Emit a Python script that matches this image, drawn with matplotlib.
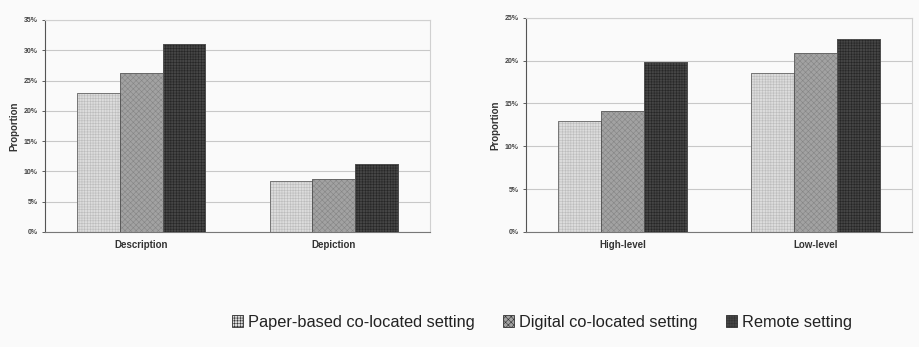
"""Proportion of description/depiction and high/low-level statements by setting."""
import matplotlib
matplotlib.use("Agg")
import matplotlib.pyplot as plt
from matplotlib.patches import Patch
from matplotlib.ticker import PercentFormatter
import numpy as np

plt.rcParams["font.family"] = ["Liberation Sans", "DejaVu Sans"]
plt.rcParams["hatch.linewidth"] = 0.4

settings = ["Paper-based co-located setting", "Digital co-located setting", "Remote setting"]

left_cats = ["Description", "Depiction"]
left_vals = {
    "Paper-based co-located setting": [23.0, 8.4],
    "Digital co-located setting": [26.2, 8.7],
    "Remote setting": [31.1, 11.2],
}

right_cats = ["High-level", "Low-level"]
right_vals = {
    "Paper-based co-located setting": [13.0, 18.5],
    "Digital co-located setting": [14.1, 20.9],
    "Remote setting": [19.8, 22.5],
}

fills = ["#dcdcdc", "#a2a2a2", "#454545"]
hatch_cols = ["#bcbcbc", "#858585", "#262626"]
hatches = ["++++++", "xxxxxx", "++++++"]
BG = "#fafafa"

fig = plt.figure(figsize=(9.19, 3.47), dpi=100, facecolor=BG)
ax_l = fig.add_axes([45 / 919, 1 - 232 / 347, 385 / 919, 212 / 347])
ax_r = fig.add_axes([526 / 919, 1 - 232 / 347, 386 / 919, 214.3 / 347])


def draw(ax, cats, vals, ymax):
    x = np.arange(len(cats))
    w = 0.667 / 3
    for i, s in enumerate(settings):
        ax.bar(x + (i - 1) * w, vals[s], w, color=fills[i], edgecolor=hatch_cols[i],
               hatch=hatches[i], linewidth=0.5, zorder=3)
        # crisp outline on top of hatch
        ax.bar(x + (i - 1) * w, vals[s], w, fill=False, edgecolor="#555555",
               linewidth=0.5, zorder=4)
    ax.set_xlim(-0.5, len(cats) - 0.5)
    ax.set_ylim(0, ymax)
    ax.set_yticks(np.arange(0, ymax + 0.1, 5))
    ax.yaxis.set_major_formatter(PercentFormatter(decimals=0))
    ax.set_xticks(x)
    ax.set_xticklabels(cats, fontsize=7, fontweight="bold", color="#333333")
    ax.tick_params(axis="y", labelsize=5, length=2, width=0.6, colors="#444444")
    ax.tick_params(axis="x", length=0, pad=6)
    for lab in ax.get_yticklabels():
        lab.set_fontweight("bold")
    ax.set_ylabel("Proportion", fontsize=7, fontweight="bold", color="#333333", labelpad=3)
    ax.set_facecolor(BG)
    ax.grid(axis="y", color="#c8c8c8", linewidth=0.8, zorder=0)
    ax.spines["left"].set_color("#555555")
    ax.spines["bottom"].set_color("#777777")
    for side in ("top", "right"):
        ax.spines[side].set_color("#d0d0d0")
        ax.spines[side].set_linewidth(0.8)


draw(ax_l, left_cats, left_vals, 35)
draw(ax_r, right_cats, right_vals, 25)

handles = [Patch(facecolor=fills[i], edgecolor="#333333", hatch=hatches[i], linewidth=0.6)
           for i in range(3)]
fig.legend(handles, settings, loc="center", bbox_to_anchor=(542 / 919, 1 - 322 / 347),
           ncol=3, frameon=False, fontsize=11.8, handlelength=0.7, handleheight=0.7,
           handletextpad=0.3, columnspacing=1.7, labelcolor="#222222")

fig.savefig("out.png", dpi=100, facecolor=BG)
